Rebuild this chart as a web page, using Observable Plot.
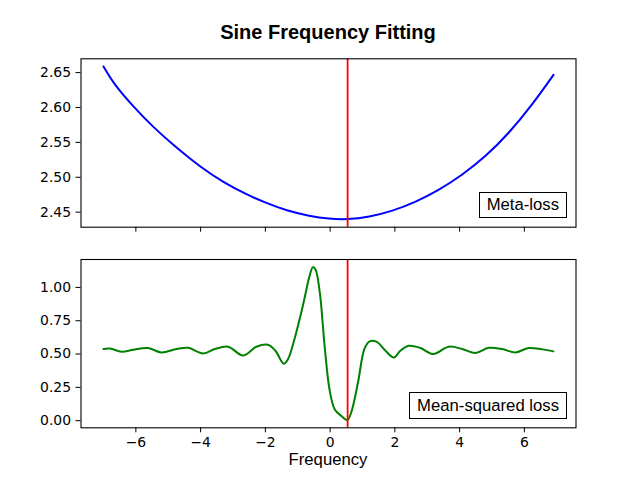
<!DOCTYPE html>
<html>
<head>
<meta charset="utf-8">
<script src="https://cdn.jsdelivr.net/npm/d3@7"></script>
<script src="https://cdn.jsdelivr.net/npm/@observablehq/plot@0.6"></script>
<style>
  html, body { margin: 0; padding: 0; background: #fff; }
  #fig { position: relative; width: 640px; height: 480px; overflow: hidden; font-family: "Liberation Sans", Arial, sans-serif; }
  .abs { position: absolute; }
  #title { left: 80.5px; width: 495px; top: 20px; text-align: center; font-weight: bold; font-size: 20px; line-height: 24px; }
  #xlabel { left: 80.5px; width: 495px; top: 450px; text-align: center; font-size: 16.7px; line-height: 20px; }
  .leg { border: 1px solid #000; background: #fff; font-size: 16.7px; box-sizing: border-box; padding: 0 7px; white-space: nowrap; }
</style>
</head>
<body>
<div id="fig">
  <div id="title" class="abs">Sine Frequency Fitting</div>
  <div id="top" class="abs" style="left:0;top:0"></div>
  <div id="bot" class="abs" style="left:0;top:240px"></div>
  <div id="xlabel" class="abs">Frequency</div>
  <div class="abs leg" style="right:73px;top:191.5px;height:26px;line-height:24px">Meta-loss</div>
  <div class="abs leg" style="right:73px;top:392px;height:27px;line-height:25px">Mean-squared loss</div>
</div>
<script>
// Meta-loss curve (top panel)
const metaFreq = [-7.0, -6.70, -6.08, -5.47, -4.74, -4.03, -3.31, -2.58, -1.97, -1.35, -0.63, -0.04, 0.53, 1.20, 1.92, 2.64, 3.36, 4.08, 4.80, 5.52, 6.24, 6.90];
const metaLoss = [2.6588, 2.6348, 2.6013, 2.5720, 2.5420, 2.5155, 2.4930, 2.4752, 2.4630, 2.4522, 2.4443, 2.4404, 2.4394, 2.4430, 2.4515, 2.4645, 2.4816, 2.5032, 2.5295, 2.5629, 2.6037, 2.6468];

// Mean-squared loss curve (bottom panel)
const mseFreq = [-7.0, -6.80, -6.44, -6.08, -5.62, -5.21, -4.74, -4.39, -3.92, -3.56, -3.15, -2.69, -2.28, -1.92, -1.69, -1.43, -1.30, -1.10, -0.84, -0.63, -0.53, -0.45, -0.32, -0.17, -0.02, 0.14, 0.35, 0.53, 0.65, 0.86, 1.06, 1.22, 1.43, 1.71, 1.97, 2.17, 2.43, 2.79, 3.19, 3.66, 4.08, 4.49, 4.90, 5.31, 5.72, 6.13, 6.55, 6.90];
const mseLoss = [0.538, 0.542, 0.517, 0.532, 0.545, 0.512, 0.538, 0.547, 0.505, 0.538, 0.555, 0.489, 0.555, 0.570, 0.525, 0.427, 0.462, 0.613, 0.864, 1.090, 1.152, 1.135, 0.964, 0.562, 0.236, 0.086, 0.035, 0.004, 0.060, 0.286, 0.538, 0.595, 0.593, 0.525, 0.474, 0.525, 0.562, 0.545, 0.500, 0.555, 0.538, 0.508, 0.547, 0.538, 0.512, 0.545, 0.535, 0.520];

const bestFreq = [0.54];
const xTicks = [-6, -4, -2, 0, 2, 4, 6];
const metaTicks = [2.45, 2.50, 2.55, 2.60, 2.65];
const mseTicks = [0.00, 0.25, 0.50, 0.75, 1.00];

const metaData = metaFreq.map((f, i) => ({f, v: metaLoss[i]}));
const mseData = mseFreq.map((f, i) => ({f, v: mseLoss[i]}));

function padded(arr) {
  const [a, b] = d3.extent(arr);
  const m = (b - a) * 0.05;
  return [a - m, b + m];
}
const xDomain = padded(metaFreq.concat(mseFreq));
const fmt = d3.format(".2f");
const tickStyle = {fontFamily: "'DejaVu Sans', sans-serif", fontSize: "13.9px", background: "transparent", overflow: "visible"};

function panel(data, color, curve, yTicks, showXLabels, mTop, mBottom) {
  return Plot.plot({
    width: 640, height: 240,
    marginLeft: 80.5, marginRight: 64.5, marginTop: mTop, marginBottom: mBottom,
    style: tickStyle,
    x: {domain: xDomain},
    y: {domain: padded(data.map(d => d.v))},
    marks: [
      Plot.line(data, {x: "f", y: "v", stroke: color, strokeWidth: 2, curve}),
      Plot.ruleX(bestFreq, {stroke: "#ff0000", strokeWidth: 1.8}),
      Plot.frame({stroke: "#000", strokeWidth: 1.1}),
      Plot.axisX({ticks: xTicks, tickSize: 5, tickPadding: 4, label: null, stroke: "#000", fill: "#000",
        tickFormat: showXLabels ? d3.format("d") : () => ""}),
      Plot.axisY({ticks: yTicks, tickSize: 5, tickPadding: 5, label: null, tickFormat: fmt, fill: "#000"})
    ]
  });
}

document.getElementById("top").appendChild(panel(metaData, "#0000ff", "basis", metaTicks, false, 58.3, 13.3));
document.getElementById("bot").appendChild(panel(mseData, "#008000", "catmull-rom", mseTicks, true, 19, 52.7));
</script>
</body>
</html>
